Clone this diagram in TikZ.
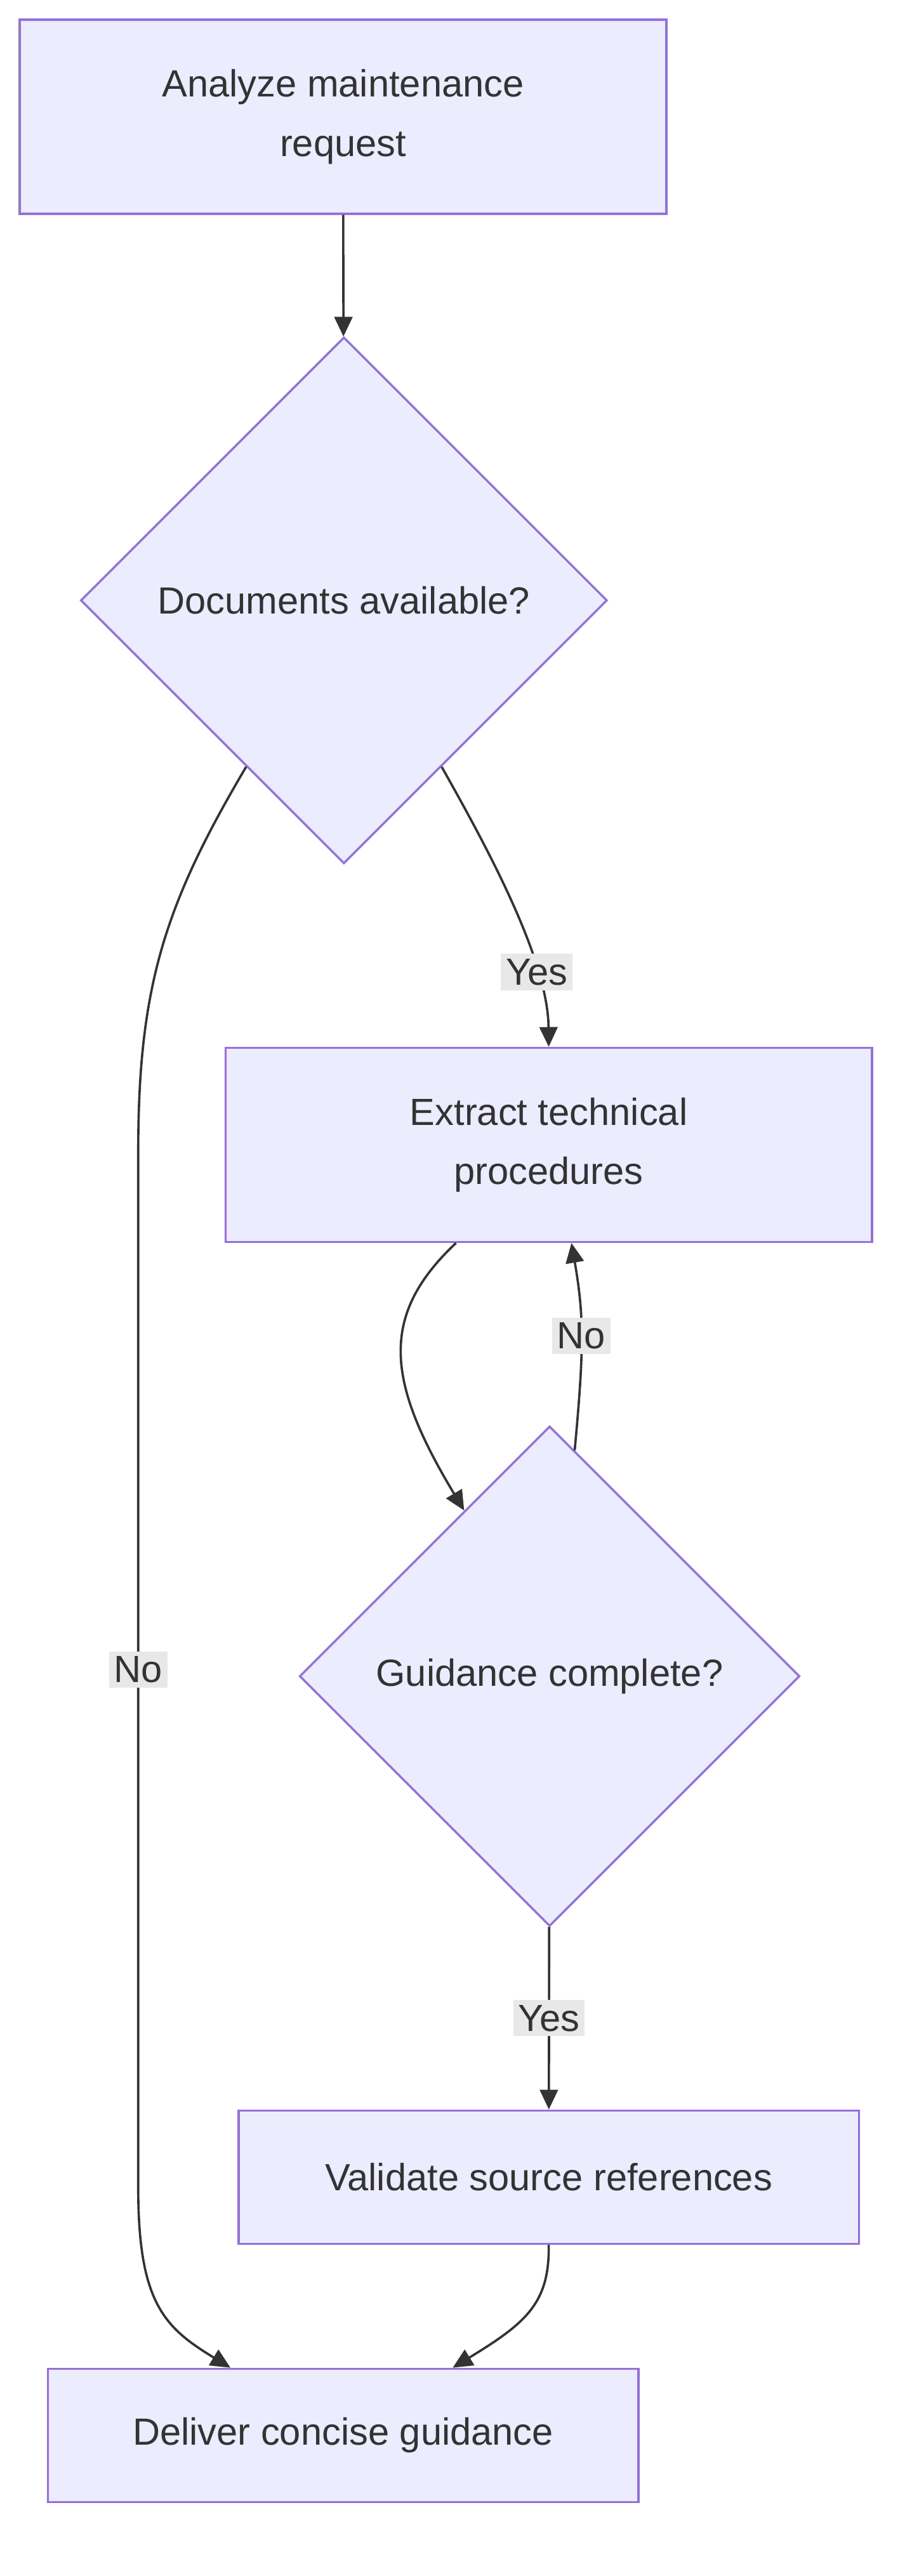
\documentclass[tikz,border=0pt]{standalone}
\usepackage{fontspec}
\setmainfont{Liberation Sans}
\usetikzlibrary{shapes.geometric,arrows.meta,calc}
\definecolor{nfill}{HTML}{ECECFF}
\definecolor{nline}{HTML}{9370DB}
\definecolor{eline}{HTML}{333333}
\definecolor{lbg}{HTML}{E8E8E8}
\begin{document}
\begin{tikzpicture}[x=1pt,y=-1pt,
  every node/.style={font=\fontsize{23}{36}\selectfont, text=eline},
  box/.style={draw=nline, fill=nfill, line width=1.3pt, inner sep=0pt, align=center},
  dia/.style={diamond, draw=nline, fill=nfill, line width=1.3pt, inner sep=0pt, aspect=1, align=center},
  edge/.style={draw=eline, line width=1.4pt, -{Triangle[length=12pt,width=11pt]}},
  lab/.style={fill=lbg, inner sep=3pt}]
\useasboundingbox (0,0) rectangle (554,1566);
\fill[white] (0,0) rectangle (554,1566);
\node[box, minimum width=393pt, minimum height=118pt] (a) at (208.5,71) {Analyze maintenance\\request};
\node[dia, minimum width=320pt, minimum height=320pt] (d1) at (209,365) {Documents available?};
\node[box, minimum width=393pt, minimum height=118pt] (e) at (333.5,696) {Extract technical\\procedures};
\node[dia, minimum width=304pt, minimum height=304pt] (d2) at (334,1019) {Guidance complete?};
\node[box, minimum width=377pt, minimum height=81pt] (v) at (333.5,1323.5) {Validate source references};
\node[box, minimum width=359pt, minimum height=81pt] (g) at (208.5,1480.5) {Deliver concise guidance};
\coordinate (d1r) at ($(d1.east)!0.63!(d1.south)$);
\coordinate (d1l) at ($(d1.west)!0.63!(d1.south)$);
\coordinate (d2t) at ($(d2.north)!0.1!(d2.east)$);
\coordinate (d2l) at ($(d2.north)!0.34!(d2.west)$);
\coordinate (en) at ($(e.south west)!0.357!(e.south east)$);
\coordinate (es) at ($(e.south west)!0.535!(e.south east)$);
\coordinate (gl) at ($(g.north west)!0.31!(g.north east)$);
\coordinate (gr) at ($(g.north west)!0.685!(g.north east)$);
\draw[edge] (a) -- (d1);
\draw[edge] (d1r) .. controls (300,522) and (333,585) .. node[pos=0.72,lab]{Yes} (e.north);
\draw[edge] (d1l) .. controls (100,550) and (84,600) .. (84,700) -- node[pos=0.5,lab]{No} (84,1330) .. controls (84,1400) and (100,1415) .. (gl);
\draw[edge] (en) .. controls (230,800) and (235,840) .. (d2l);
\draw[edge] (d2t) .. controls (355,820) and (355,800) .. node[pos=0.5,lab]{No} (es);
\draw[edge] (d2) -- node[lab]{Yes} (v);
\draw[edge] (v.south) .. controls (334,1400) and (320,1412) .. (gr);
\end{tikzpicture}
\end{document}
